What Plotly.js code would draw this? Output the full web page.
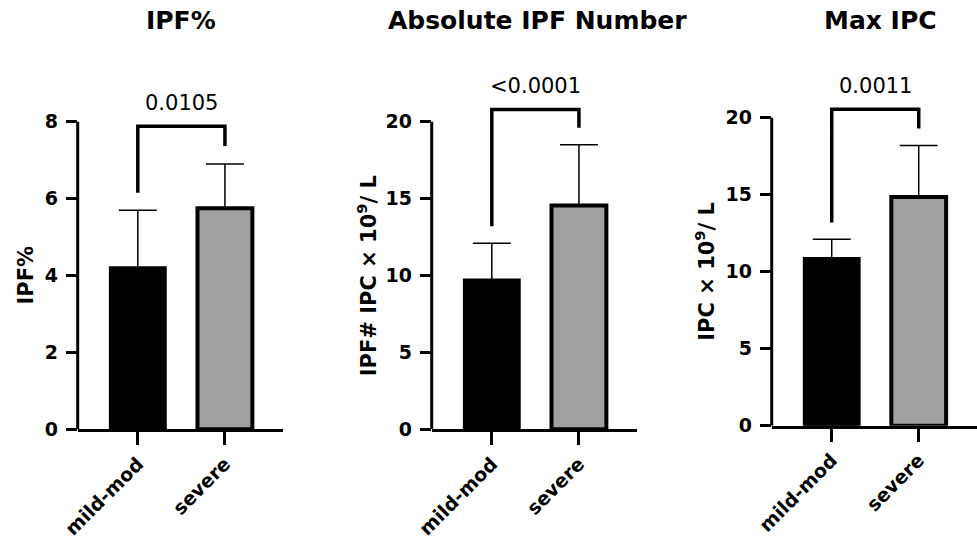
<!DOCTYPE html>
<html>
<head>
<meta charset="utf-8">
<script src="https://cdn.plot.ly/plotly-3.0.1.min.js"></script>
<style>html,body{margin:0;padding:0;background:#fff;}#chart{width:977px;height:538px;}</style>
</head>
<body>
<div id="chart"></div>
<script>
// ---- data ----
const categories = ["mild-mod", "severe"];
const panelTitles = ["IPF%", "Absolute IPF Number", "Max IPC"];
const yTitles = ["IPF%", "IPF# IPC × 10<sup>9</sup>/ L", "IPC × 10<sup>9</sup>/ L"];

const ipfPctMean = [4.2, 5.75];
const ipfPctSD = [1.5, 1.15];
const absIpfMean = [9.7, 14.55];
const absIpfSD = [2.4, 3.95];
const maxIpcMean = [10.85, 14.85];
const maxIpcSD = [1.25, 3.35];

const pValues = ["0.0105", "<0.0001", "0.0011"];
// bracket: [left leg bottom, top, right leg bottom]
const bracketIpfPct = [6.15, 7.88, 7.37];
const bracketAbsIpf = [13.2, 20.8, 19.6];
const bracketMaxIpc = [13.2, 20.55, 19.3];

const yTickVals = [[0, 2, 4, 6, 8], [0, 5, 10, 15, 20], [0, 5, 10, 15, 20]];
const yAxisTop = [8, 20, 20];

// ---- styling ----
const FONT = "DejaVu Sans, Liberation Sans, Arial, sans-serif";
const W = 977, H = 538;
const means = [ipfPctMean, absIpfMean, maxIpcMean];
const sds = [ipfPctSD, absIpfSD, maxIpcSD];
const brackets = [bracketIpfPct, bracketAbsIpf, bracketMaxIpc];

const xDomainsPx = [[77.7, 283.3], [431.7, 637.3], [771.7, 977]];
const yZeroPx = [429.3, 429.3, 425.7];
const yTopPx = [121.7, 121.7, 117.7];
const domainTopPx = 95;
const titleX = [181, 537, 880];
const yTitleX = [25, 366.7, 705];

const data = [];
const layout = {
  width: W, height: H,
  margin: {l: 0, r: 0, t: 0, b: 0},
  paper_bgcolor: "#ffffff", plot_bgcolor: "#ffffff",
  showlegend: false,
  font: {family: FONT, color: "#000"},
  annotations: [], shapes: []
};

for (let i = 0; i < 3; i++) {
  const xa = i === 0 ? "x" : "x" + (i + 1);
  const ya = i === 0 ? "y" : "y" + (i + 1);
  const xKey = i === 0 ? "xaxis" : "xaxis" + (i + 1);
  const yKey = i === 0 ? "yaxis" : "yaxis" + (i + 1);

  data.push({
    type: "bar", x: categories, y: means[i], xaxis: xa, yaxis: ya,
    width: 0.63,
    marker: {color: ["#000000", "#a0a0a0"], line: {color: "#000000", width: [3, 4]}},
    error_y: {type: "data", symmetric: false, array: sds[i], arrayminus: [0, 0],
              color: "#000000", thickness: 1.5, width: 19},
    hoverinfo: "skip"
  });
  const b = brackets[i];
  data.push({
    type: "scatter", mode: "lines", xaxis: xa, yaxis: ya,
    x: [categories[0], categories[0], categories[1], categories[1]],
    y: [b[0], b[1], b[1], b[2]],
    line: {color: "#000000", width: 3.5},
    hoverinfo: "skip"
  });

  const scale = (yZeroPx[i] - yTopPx[i]) / yAxisTop[i];
  const rangeTop = (yZeroPx[i] - domainTopPx) / scale;

  layout[xKey] = {
    domain: [xDomainsPx[i][0] / W, Math.min(1, xDomainsPx[i][1] / W)],
    anchor: ya, type: "category", range: [-0.69, 1.67],
    showline: true, linecolor: "#000", linewidth: 3,
    ticks: "outside", ticklen: 13, tickwidth: 3, tickcolor: "#000",
    tickangle: -45, tickfont: {family: FONT, size: 19, color: "#000", weight: "bold"},
    showgrid: false, zeroline: false, fixedrange: true
  };
  layout[yKey] = {
    domain: [1 - yZeroPx[i] / H, 1 - domainTopPx / H],
    anchor: xa, range: [0, rangeTop],
    tickvals: yTickVals[i], ticktext: yTickVals[i].map(String),
    showline: false,
    ticks: "outside", ticklen: 11, tickwidth: 3, tickcolor: "#000",
    ticklabelstandoff: 4,
    tickfont: {family: FONT, size: 19, color: "#000", weight: "bold"},
    showgrid: false, zeroline: false, fixedrange: true
  };
  // y axis line from 0 to the top tick
  layout.shapes.push({
    type: "line", xref: xa + " domain", yref: ya,
    x0: 0, x1: 0, y0: 0, y1: yAxisTop[i],
    line: {color: "#000", width: 3}
  });
  // panel title
  layout.annotations.push({
    xref: "paper", yref: "paper", x: titleX[i] / W, y: 1 - 20 / H,
    xanchor: "center", yanchor: "middle", showarrow: false,
    text: panelTitles[i], font: {family: FONT, size: 25, color: "#000", weight: "bold"}
  });
  // y title
  layout.annotations.push({
    xref: "paper", yref: "paper", x: yTitleX[i] / W,
    y: 1 - ((yZeroPx[i] + yTopPx[i]) / 2) / H,
    xanchor: "center", yanchor: "middle", showarrow: false, textangle: -90,
    text: yTitles[i], font: {family: FONT, size: 21, color: "#000", weight: "bold"}
  });
  // p-value
  layout.annotations.push({
    xref: xa, yref: ya, x: 0.5, y: b[1], yshift: 23,
    xanchor: "center", yanchor: "middle", showarrow: false,
    text: pValues[i], font: {family: FONT, size: 21, color: "#000"}
  });
}

Plotly.newPlot("chart", data, layout, {displayModeBar: false, staticPlot: true});
</script>
</body>
</html>
